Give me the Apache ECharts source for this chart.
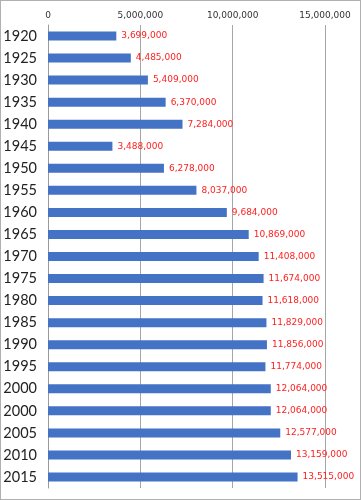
<!DOCTYPE html>
<html><head><meta charset="utf-8">
<script src="https://cdn.jsdelivr.net/npm/echarts@6/dist/echarts.min.js"></script>
<style>
html,body{margin:0;padding:0;background:#fff;}
#c{width:359px;height:498px;border:1px solid #b0b0b0;}
</style></head>
<body><div id="c"></div>
<script>
const categories = ["1920","1925","1930","1935","1940","1945","1950","1955","1960","1965","1970","1975","1980","1985","1990","1995","2000","2000","2005","2010","2015"];
const values = [3699000,4485000,5409000,6370000,7284000,3488000,6278000,8037000,9684000,10869000,11408000,11674000,11618000,11829000,11856000,11774000,12064000,12064000,12577000,13159000,13515000];
const tickMax = 15000000, tickStep = 5000000;
const fmt = v => String(v).replace(/\B(?=(\d{3})+(?!\d))/g, ",");
const chart = echarts.init(document.getElementById('c'));
chart.setOption({
  animation:false,
  grid:{left:47,right:35,top:24,bottom:11,containLabel:false,outerBoundsMode:'none'},
  xAxis:{type:'value',position:'top',min:0,max:tickMax,interval:tickStep,
    axisLine:{show:false},axisTick:{show:false},
    axisLabel:{formatter:fmt,fontSize:9,color:'#333',fontFamily:'DejaVu Sans',margin:5},
    splitLine:{lineStyle:{color:'#a6a6a6',width:1}}},
  yAxis:{type:'category',data:categories,inverse:true,
    axisLine:{lineStyle:{color:'#9a9a9a'}},
    axisTick:{length:4,lineStyle:{color:'#9a9a9a'}},
    axisLabel:{fontSize:14.5,color:'#222',fontFamily:'Lato',margin:11}},
  series:[{type:'bar',data:values,barWidth:9,
    itemStyle:{color:'#4472c4'},
    label:{show:true,position:'right',distance:5,formatter:p=>fmt(p.value),color:'#ff2020',fontSize:9,fontFamily:'DejaVu Sans'}}]
});
</script></body></html>
